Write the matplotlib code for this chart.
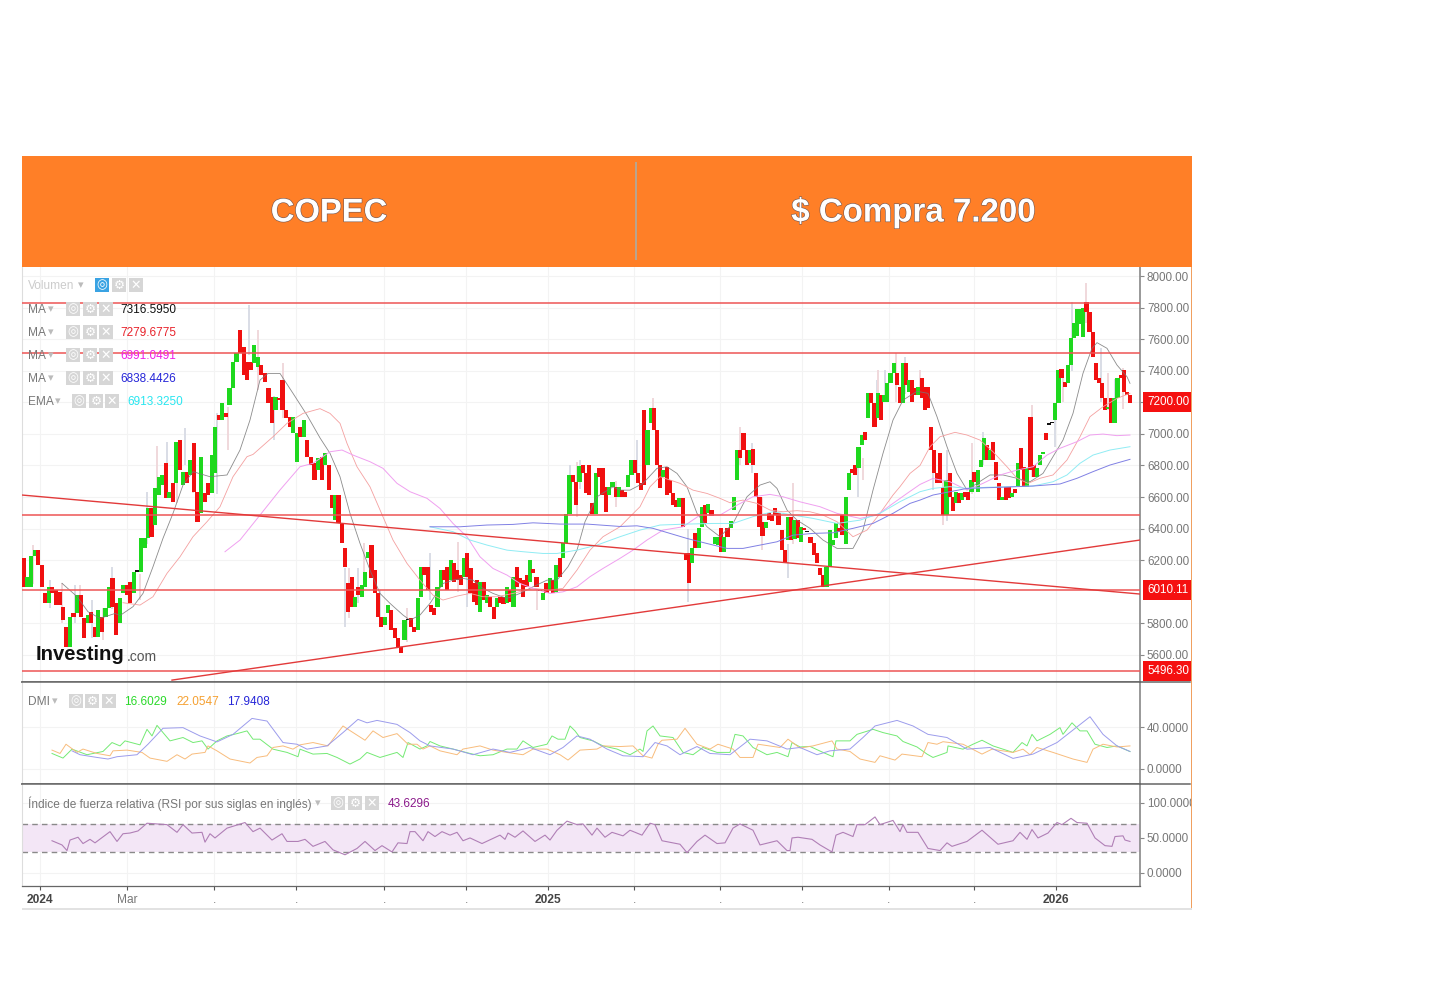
import numpy as np
import matplotlib
matplotlib.use("Agg")
import matplotlib.pyplot as plt
from matplotlib.patches import Rectangle
import matplotlib.patheffects as pe

W, H = 1438, 1008
plt.rcParams['font.family'] = ['Liberation Sans', 'DejaVu Sans']

# --- velas, por tramos (apertura / cierre) ---
opens_a = [6212,6032,6032,6227,6265,6170,5990,5927,6032,6012,6001,5906,5779,5652,5863,5863,5980,5832,5800,5874,
           5779,5716,5842,5842,5895,6085,5927,5800,5990,6043,6064,5990,6128,6128,6275,6339,6529,6423,6613,6676,
           6814,6592,6687,6687,6961,6676,6761,6740,6944,6634,6497,6624,6687,6624,6750,7119,7088,7130,7183,7288,
           7457,7658,7552,7457,7457,7447,7425,7436,7383,7288,7235,7151,7225,7341,7151,7109,7003,6824,7046,6982,
           6961,6856,6814,6771]
closes_a = [6032,6096,6227,6265,6170,6032,5927,6032,5990,5916,5916,5821,5652,5842,5842,5980,5842,5705,5853,5800,
            5716,5885,5747,5895,6032,5906,5726,5958,6043,5980,5927,6128,6132,6339,6339,6529,6349,6655,6729,6740,
            6592,6634,6571,6951,6771,6761,6687,6835,6634,6444,6856,6571,6613,6866,7046,7088,7193,7109,7288,7457,
            7510,7510,7373,7341,7404,7563,7489,7373,7330,7193,7067,7235,7214,7151,7098,7046,7109,7003,6982,7088,
            6856,6803,6708,6845]
opens_b = [6855,6803,6803,6613,6454,6613,6433,6275,6053,6095,5906,6032,5969,6032,6212,6296,6138,5990,5842,5789,
           5863,5885,5768,5705,5652,5694,5821,5832,5779,5758,5969,6159,6159,5916,5895,5906,6032,6138,6159,6074,
           6180,6138,6106,6096,6243,6148,6053,6074,5874,6064,5927,5969,5906,5906,5969,5968,5927,6011,5906,6159,
           6085,6074,6106,6064,6142,6096,6007,5948,6053,6011,6078,6000,6212,6212,6307,6492,6739,6697,6697,6803,
           6750,6803,6560,6490,6782,6782,6665,6613,6665,6665,6602]
closes_b = [6708,6881,6644,6528,6613,6433,6307,6159,5874,5906,5969,5979,6043,6127,6254,6085,5990,5842,5779,5842,
            5916,5758,5705,5652,5610,5821,5825,5779,5747,5958,6159,6106,6011,5874,5853,6032,6138,6074,6011,6201,
            6064,6074,6043,6212,6096,5990,5937,5916,6064,5948,5979,5906,5825,5958,5927,5925,6032,5937,6096,6032,
            6053,5969,6032,6201,6121,6028,6003,5990,5990,6085,5990,6169,6096,6307,6492,6739,6697,6549,6796,6750,
            6623,6613,6490,6750,6729,6613,6507,6665,6697,6598,6665]
opens_c = [6644,6634,6665,6739,6834,6750,6687,7151,6803,7067,7162,7024,6803,6729,6792,6708,6623,6581,6539,6592,
           6247,6243,6180,6370,6275,6412,6549,6497,6518,6306,6296,6402,6254,6402,6402,6518,6708,6898,7003,6898,
           6813,6902,6750,6602,6444,6402,6501,6486,6528,6497,6391,6264,6328,6476,6332,6454,6317,6406,6380,6349,
           6307,6247,6148,6106,6032,6159,6296,6338,6402,6486,6306,6644,6775,6803,6782,6929,7014,7098,7257,7193,
           7099,7247,7204,7204,7320,7384,7384,7299]
closes_c = [6602,6598,6739,6834,6750,6687,6644,6676,7024,7162,7024,6803,6655,6771,6613,6623,6549,6539,6592,6412,
            6201,6053,6275,6275,6402,6539,6433,6556,6480,6349,6349,6254,6349,6349,6450,6602,6898,6845,6898,6803,
            6898,6803,6602,6412,6353,6444,6454,6450,6486,6423,6264,6180,6476,6328,6454,6338,6412,6391,6376,6307,
            6233,6180,6106,6032,6159,6391,6328,6437,6380,6359,6602,6750,6750,6739,6919,6993,6961,7257,7193,7045,
            7257,7088,7247,7320,7384,7451,7310,7194]
opens_d = [7194,7447,7267,7341,7289,7246,7352,7299,7299,7046,6898,6750,6877,6666,6486,6750,6602,6560,6624,6581,
           6634,6634,6634,6761,6634,6792,6835,6930,6835,6951,6824,6687,6581,6662,6666,6602,6649,6666,6909,6792,
           6666,7109,6803,6729,6803,6870,7003,7063,7068,7088,7194,7409,7331,7320,7436,7605,7620,7694,7616,7837,
           7774,7647,7447,7352,7320,7225,7155,7225,7067,7225,7373,7405,7267,7246]
closes_d = [7447,7310,7341,7204,7246,7299,7225,7151,7162,6898,6750,6687,6687,6486,6708,6602,6514,6634,6560,6624,
            6602,6581,6708,6697,6771,6835,6972,6835,6898,6835,6708,6581,6602,6581,6592,6624,6628,6814,6771,6666,
            6782,6771,6729,6782,6866,6888,6961,7059,7072,7198,7405,7352,7299,7436,7605,7700,7791,7790,7800,7774,
            7647,7489,7341,7320,7225,7151,7172,7067,7225,7352,7352,7267,7246,7198]

# mechas sueltas: sesion, minimo, maximo
wick_sess = [33,50,62,75,80,92,103,112,140,147,157,167,177,185,193,217,228,249,258,274,283,
             345,349,358,364,380,407,430,458,467,537,570,577,580,616,
             637,653,688,740,752,762,788,793,858,863,877,878,885,896,905,920,
             933,943,947,972,983,1032,1055,1063,1072,1086,1101,1108,1115,1123]
wick_low = [6050,5900,5800,5800,5850,5705,5695,5890,5950,6300,6650,6600,6560,6800,6624,6620,6900,7500,7280,6960,7100,
            5779,5832,5927,6100,5800,5684,5950,6000,5905,5884,6600,6475,6650,6539,
            6700,7050,5937,6800,6750,6264,6085,6300,6600,6708,7100,7100,7200,7200,7250,7250,
            6645,6423,6450,6620,6800,6729,6919,7204,7400,7700,7200,7151,7172,7160]
wick_high = [6296,6075,6054,6043,6043,5950,5900,6159,6110,6634,6925,6950,6900,7035,6900,7130,7170,7815,7658,7240,7450,
             6150,6150,6150,6310,6010,5900,6243,6317,6100,6020,6803,6820,6834,6700,
             6961,7225,6400,7045,6940,6600,6300,6687,6855,6850,7341,7405,7405,7510,7490,7405,
             6900,6700,6898,6940,7014,7183,7130,7400,7838,7954,7542,7383,7350,7415]

# medias moviles
ma1_s = [62,77,88,100,115,120,133,143,153,163,173,183,193,210,227,240,250,260,268,280,293,307,320,330,340,350,360,370,380,390,403,410,420,430,443,453,463,473,483,493,507,520,533,547,557,568,577,585,597,613,620,630,643,657,667,677,687,697,707,720,733,747,760,770,777,787,797,810,823,837,853,863,873,883,893,903,917,928,937,947,957,967,977,990,1003,1017,1030,1043,1053,1063,1073,1083,1092,1097,1107,1117,1127,1130]
ma1_v = [6054,5970,5874,5832,5863,5850,5906,5990,6159,6339,6497,6676,6761,6729,6740,6898,7088,7341,7383,7383,7257,7119,6975,6877,6729,6497,6307,6138,5990,5927,5853,5821,5853,5927,6053,6074,6085,6074,6022,5990,5958,5990,6032,6074,6074,6159,6264,6444,6602,6665,6644,6644,6687,6782,6792,6750,6665,6497,6412,6349,6433,6602,6676,6697,6655,6518,6454,6402,6328,6275,6275,6391,6644,6877,7088,7214,7270,7257,7109,6919,6750,6645,6687,6740,6740,6719,6697,6750,6856,6961,7130,7384,7542,7578,7542,7436,7362,7320]
ma2_s = [123,140,153,167,180,193,207,220,233,247,253,273,287,303,320,330,340,347,357,370,383,393,407,420,433,443,457,470,483,497,513,533,550,563,577,590,603,620,630,640,650,660,670,680,693,707,720,730,743,757,770,783,797,810,823,837,853,867,880,893,900,910,920,930,940,955,967,980,993,1007,1017,1028,1040,1053,1067,1080,1090,1103,1117,1130]
ma2_v = [5931,5916,5969,6117,6222,6349,6444,6539,6729,6856,6870,6982,7067,7130,7160,7130,7067,6940,6792,6665,6475,6328,6180,6074,5979,5948,5973,5990,5969,5969,5990,6022,6011,6022,6138,6264,6349,6412,6476,6539,6665,6729,6708,6687,6644,6623,6592,6564,6581,6560,6518,6507,6514,6507,6486,6444,6349,6391,6497,6613,6666,6750,6800,6919,6982,7010,6993,6961,6887,6792,6719,6687,6719,6740,6835,6982,7109,7172,7225,7257]
ma3_s = [225,240,260,280,300,313,330,342,353,370,383,397,410,427,440,453,467,480,493,507,520,533,550,563,577,590,603,620,633,647,663,683,700,720,737,753,770,783,800,820,837,860,877,893,907,920,933,950,967,983,1000,1017,1033,1047,1060,1077,1090,1103,1117,1130]
ma3_v = [6254,6328,6486,6645,6792,6814,6887,6898,6866,6824,6782,6687,6634,6592,6528,6433,6349,6222,6148,6106,6053,6022,5990,6000,6032,6096,6148,6212,6264,6328,6391,6412,6486,6486,6549,6602,6617,6602,6570,6539,6497,6465,6486,6560,6623,6680,6718,6697,6645,6687,6740,6771,6792,6866,6909,6951,6993,6999,6989,6993]
ema_s = [430,453,470,487,507,523,543,557,577,597,620,640,660,687,713,733,753,773,793,813,837,860,880,900,910,920,933,950,967,987,1010,1033,1053,1067,1080,1093,1110,1130]
ema_v = [6412,6381,6328,6296,6264,6254,6243,6243,6264,6296,6349,6391,6423,6429,6433,6433,6476,6507,6486,6465,6433,6454,6497,6571,6602,6634,6655,6666,6655,6662,6666,6670,6697,6740,6814,6866,6898,6919]
ma4_s = [430,460,487,513,533,560,587,620,637,653,670,687,707,727,743,760,777,793,813,833,853,873,893,910,920,933,950,967,1000,1033,1060,1077,1093,1110,1130]
ma4_v = [6412,6412,6423,6427,6437,6429,6429,6414,6418,6402,6370,6338,6306,6275,6275,6296,6317,6359,6370,6374,6402,6433,6497,6560,6581,6613,6634,6655,6662,6670,6683,6719,6761,6803,6839]

# lineas de tendencia y niveles
level_prices = [7826, 7514, 6487, 6010.11, 5496.30]
trend_down_s = [22, 1140]
trend_down_v = [6613, 5986]
trend_up_s = [172, 1140]
trend_up_v = [5441, 6328]

# DMI
dmi_plus_s = [52,63,72,87,103,112,120,125,140,147,152,157,163,170,183,193,202,208,217,227,237,247,253,260,273,287,298,300,313,327,337,350,360,367,380,397,403,408,420,427,430,440,453,470,480,493,507,517,523,533,547,552,558,565,570,575,580,593,603,617,630,640,643,647,653,660,673,683,693,703,717,730,735,743,753,767,777,788,792,800,810,823,833,836,850,857,873,883,897,903,917,927,933,947,948,963,973,982,993,1013,1022,1027,1032,1037,1050,1060,1063,1072,1080,1087,1095,1107,1117,1130]
dmi_plus_v = [14.8,10.4,18.9,13.6,16.7,25.2,22,26.8,23,37.8,31.5,41.6,34.7,26.8,30,25.2,26.8,19,26.8,31.5,33.7,36.3,28.4,28.4,18.9,15.8,11.7,18.9,14.2,14.8,11,4.7,9.5,15.8,11,15.8,11,25.2,19,22,26.2,22,19,14.8,12.6,13.6,19,19,26.8,20.5,23.6,31.5,28.4,28.4,41,36.3,30,26.8,22,19,13.6,19,16.7,36.3,41,31.5,30,15.8,13.6,20.5,15.8,15.8,33,31.5,20.5,13.6,15.8,11.7,25.2,21,21.5,15.8,11.7,26.8,26.8,33,37.8,34.7,31.5,26.2,21,14.2,11,15.8,22,18.9,23.6,27.4,22,15.8,25.2,22,33,26.8,33,39.4,33,44,36.3,36.3,23.6,20.5,22,16.6]
dmi_minus_s = [52,60,66,77,83,97,110,113,127,142,150,167,177,185,192,205,208,217,230,250,257,267,273,283,293,300,313,328,333,343,348,365,373,383,397,408,417,423,430,440,457,463,480,493,507,523,533,547,560,568,580,597,603,620,633,643,652,658,662,677,685,697,710,718,733,740,753,758,780,788,800,813,832,837,850,860,875,880,895,902,922,928,937,943,963,982,992,1013,1023,1030,1037,1053,1073,1087,1093,1103,1117,1130]
dmi_minus_v = [18,14.8,23.6,15.8,19,14.8,12.6,17.3,18,15.8,10.4,7.3,13.6,9.5,14.2,15.8,22,17.3,9.5,5.7,11,12.6,20.5,22,18.9,23,25.2,22,28.4,41,37.8,27.4,36.3,30,33.7,23.6,23.6,19,22,17.3,13.6,19,22,18,15.8,13.6,19,19,13.6,8.5,18,19,22,21.4,22,12.6,10.4,23.6,27.4,28.4,38.8,23.6,19,23.6,19,11,11,23.6,20.5,28.4,20,22,26.8,19,16.7,9.5,6.3,12.6,8.5,14.2,11.7,25.2,23.6,26,23.6,14.2,18.9,15.8,18.9,13.6,20.5,15.8,9.5,6.3,18.9,23.6,21,22]
adx_s = [72,80,97,108,117,137,148,163,183,200,217,233,252,267,283,297,307,327,343,358,367,377,397,410,420,430,453,473,493,510,530,550,563,577,590,607,623,643,655,667,680,697,710,730,750,767,787,800,817,830,850,863,875,897,913,928,947,967,990,1013,1033,1057,1090,1103,1117,1130]
adx_v = [17.3,13.6,11,9.5,11.7,13.6,23.6,38.8,39.4,31.5,25.8,33,48.2,45.7,25.2,23.6,18.9,22,34.7,47.3,44,46.3,42.5,34.7,26.8,22,19,13.6,19,15.8,20.5,13.6,20.5,31.5,28.4,19,12.6,11.7,25.2,22,13.6,21.4,14.8,13.6,28.4,26.8,19,20.5,13.6,17.3,19,30,41,46.3,41,33,30,18.9,20.5,10.1,14.2,25.2,49.8,33,22,16.7]

# RSI
rsi_s = [52,62,67,70,78,83,90,95,110,117,123,130,138,147,157,167,177,183,192,202,205,210,215,227,245,253,260,272,282,287,298,305,313,325,333,345,357,365,375,382,392,398,407,410,415,423,428,435,442,450,457,463,470,482,500,505,508,515,523,535,545,550,557,567,577,583,592,597,605,612,623,630,642,650,655,662,673,680,687,697,705,717,725,733,740,753,760,777,787,790,792,798,812,820,832,836,843,853,857,865,875,880,893,900,903,907,918,928,940,947,952,967,982,998,1013,1020,1027,1032,1038,1048,1057,1062,1071,1077,1087,1095,1105,1112,1115,1123,1125,1130]
rsi_v = [46,40,32,47,51,42,48,43,59,45,56,57,60,71,70,69,58,69,57,58,44,56,50,64,72,59,64,47,56,45,45,48,38,45,33,26,35,45,32,39,30,43,42,59,59,46,59,52,59,54,58,46,50,42,54,48,57,51,60,45,54,47,61,74,69,70,54,64,51,58,53,61,54,71,69,46,43,41,29,45,54,42,43,64,70,61,40,46,32,32,50,51,48,40,30,54,58,52,69,69,80,69,75,59,69,58,58,35,32,43,38,45,61,41,46,58,48,62,50,57,72,69,78,72,71,50,39,38,52,53,47,45]

# ejes
price_ticks = [8000,7800,7600,7400,7200,7000,6800,6600,6400,6200,5800,5600]
dmi_ticks = [40, 0]
rsi_ticks = [100, 50, 0]
time_ticks = [40,127,214,296,384,466,548,634,720,802,889,974,1056]
time_labels = ['2024','Mar','.','.','.','.','2025','.','.','.','.','.','2026']

# sesiones de cada vela: cada tramo reparte sus velas de forma uniforme
bar_sess = np.concatenate([np.linspace(24, 318, len(opens_a)), np.linspace(322, 619, len(opens_b)),
                           np.linspace(622, 900, len(opens_c)), np.linspace(903, 1130, len(opens_d))])
opens = np.array(opens_a + opens_b + opens_c + opens_d, dtype=float)
closes = np.array(closes_a + closes_b + closes_c + closes_d, dtype=float)

fig = plt.figure(figsize=(W / 100, H / 100), dpi=100, facecolor='white')


def panel(y0, y1):
    return fig.add_axes([22 / W, 1 - y1 / H, (1140 - 22) / W, (y1 - y0) / H], zorder=1)


def label(x, y, s, **kw):
    kw.setdefault('va', 'center')
    kw.setdefault('zorder', 10)
    return fig.text(x / W, 1 - y / H, s, **kw)


def box(x, y, w, h, color, zorder=10):
    fig.add_artist(Rectangle((x / W, 1 - (y + h) / H), w / W, h / H, transform=fig.transFigure,
                             facecolor=color, edgecolor='none', zorder=zorder))


def icons(xs, y, first='#d6d6d6'):
    # tres botones grises de la leyenda
    for i, (xb, g) in enumerate(zip(xs, ['◎', '⚙', '✕'])):
        box(xb, y - 7, 14, 14, first if i == 0 else '#d6d6d6', zorder=9)
        label(xb + 7, y, g, color='white', fontsize=9, ha='center', family='DejaVu Sans')


ax = panel(267, 682)
ax_dmi = panel(682, 784)
ax_rsi = panel(784, 886)
for a in (ax, ax_dmi, ax_rsi):
    a.set_xlim(22, 1140)
    a.set_xticks(time_ticks)
    a.grid(True, color='#f3f3f3', lw=0.8)
    a.set_axisbelow(True)
    a.yaxis.tick_right()
    a.tick_params(axis='y', length=3, color='#888888', labelcolor='#777777', labelsize=8.4, pad=2)
    a.tick_params(axis='x', length=0, labelbottom=False)
    for s in ('top', 'bottom'):
        a.spines[s].set_color('#666666')
        a.spines[s].set_linewidth(1.1)
    a.spines['left'].set_color('#dddddd')
    a.spines['right'].set_color('#888888')
    a.spines['right'].set_linewidth(1.2)
ax.spines['top'].set_visible(False)
ax_rsi.spines['bottom'].set_linewidth(0.9)

# panel de precios
ax.set_ylim(5429, 8057)
ax.set_yticks(price_ticks)
ax.set_yticklabels([f'{v:.2f}' for v in price_ticks])
wick_col = ['#d9dde6' if i % 2 else '#f0d8dc' for i in range(len(wick_sess))]
ax.vlines(wick_sess, wick_low, wick_high, colors=wick_col, lw=1.4, zorder=2)
bar_col = ['#111111' if abs(c - o) <= 5 else ('#1ed81e' if c > o else '#f01010') for o, c in zip(opens, closes)]
body = np.maximum(np.abs(closes - opens), 8)
ax.bar(bar_sess, body, bottom=np.minimum(opens, closes), width=4.2, color=bar_col, linewidth=0, zorder=3)
ax.plot(ma1_s, ma1_v, color='#777777', lw=0.6, alpha=0.85, zorder=4)
ax.plot(ma2_s, ma2_v, color='#f4a0a0', lw=0.6, zorder=4)
ax.plot(ma3_s, ma3_v, color='#f0a0f0', lw=0.7, zorder=4)
ax.plot(ema_s, ema_v, color='#90ecf4', lw=0.7, zorder=4)
ax.plot(ma4_s, ma4_v, color='#8080e4', lw=0.7, zorder=4)
for p in level_prices:
    ax.axhline(p, color='#ee5555', lw=1.1, zorder=5)
ax.plot(trend_down_s, trend_down_v, color='#e23a3a', lw=1.0, zorder=5)
ax.plot(trend_up_s, trend_up_v, color='#e23a3a', lw=1.0, zorder=5)
for v, t in [(7200, '7200.00'), (6010.11, '6010.11'), (5496.30, '5496.30')]:
    ax.text(1147, v, t, color='white', fontsize=8.4, va='center', ha='left', clip_on=False, zorder=8,
            bbox=dict(boxstyle='square,pad=0.35', fc='#f51010', ec='none'))

# DMI
ax_dmi.set_ylim(-14.3, 82.9)
ax_dmi.set_yticks(dmi_ticks)
ax_dmi.set_yticklabels([f'{v:.4f}' for v in dmi_ticks])
ax_dmi.plot(dmi_plus_s, dmi_plus_v, color='#74ea74', lw=0.7)
ax_dmi.plot(dmi_minus_s, dmi_minus_v, color='#f8bc7c', lw=0.7)
ax_dmi.plot(adx_s, adx_v, color='#9c9cec', lw=0.7)

# RSI
ax_rsi.set_ylim(-18.6, 127)
ax_rsi.set_yticks(rsi_ticks)
ax_rsi.set_yticklabels([f'{v:.4f}' for v in rsi_ticks])
ax_rsi.axhspan(30, 70, color='#f3e6f6', lw=0, zorder=1)
ax_rsi.axhline(70, color='#8a8a8a', lw=1, ls=(0, (4, 3)), zorder=2)
ax_rsi.axhline(30, color='#8a8a8a', lw=1, ls=(0, (4, 3)), zorder=2)
ax_rsi.plot(rsi_s, rsi_v, color='#b07fb6', lw=0.8, zorder=3)
ax_rsi.tick_params(axis='x', length=3, color='#555555', labelbottom=True, labelsize=8.6, pad=2.5)
ax_rsi.set_xticklabels(time_labels)
for t, s in zip(ax_rsi.get_xticklabels(), time_labels):
    if s[0] == '2':
        t.set_fontweight('bold')
        t.set_color('#444444')
    else:
        t.set_color('#777777')

# textos cortados bajo la cabecera
label(48, 262, '6720.00  7120.00  6720.00  6720.00', color='#222222', fontsize=9.5, zorder=5)

# cabecera naranja
box(22, 156, 1170, 111, '#ff7f27', zorder=6)
box(635, 162, 1.5, 98, '#b9a48e', zorder=7)
stroke = [pe.withStroke(linewidth=0.9, foreground='#7a5a52')]
label(329, 213, 'COPEC', color='white', fontsize=23.6, fontweight='bold', ha='center', path_effects=stroke)
label(913, 213, '$ Compra 7.200', color='white', fontsize=23.8, fontweight='bold', ha='center', path_effects=stroke)

# bordes derecho e inferior
box(1192, 267, 30, 650, 'white', zorder=8)
box(1190.5, 267, 1.2, 642, '#f0a060', zorder=9)
box(22, 907.5, 1170, 2, '#e2e2e2', zorder=9)
fig.add_artist(plt.Line2D([1140 / W, 1190 / W], [1 - 682 / H] * 2, color='#666666', lw=1.1, zorder=9))
fig.add_artist(plt.Line2D([1140 / W, 1190 / W], [1 - 784 / H] * 2, color='#666666', lw=1.1, zorder=9))

# leyendas
grey = '#777777'
arrow = dict(color='#bbbbbb', fontsize=8, ha='center', family='DejaVu Sans')
label(28, 286, 'Volumen', color='#cccccc', fontsize=8.6)
label(81, 285, '▾', **arrow)
icons([95, 112, 129], 285, first='#3aa3e3')
for y, name, value, col in [(309, 'MA', '7316.5950', '#111111'), (332, 'MA', '7279.6775', '#e8222a'),
                            (355, 'MA', '6991.0491', '#f020e8'), (378, 'MA', '6838.4426', '#2525d8')]:
    label(28, y + 1, name, color=grey, fontsize=8.6)
    label(51, y, '▾', **arrow)
    icons([66, 83, 99], y)
    label(120, y + 1, value, color=col, fontsize=8.5)
label(28, 402, 'EMA', color=grey, fontsize=8.6)
label(58, 401, '▾', **arrow)
icons([72, 89, 105], 401)
label(127, 402, '6913.3250', color='#28e6f0', fontsize=8.5)

label(28, 702, 'DMI', color=grey, fontsize=8.6)
label(55, 701, '▾', **arrow)
icons([69, 85, 102], 701)
label(124, 702, '16.6029', color='#2ad92a', fontsize=8.5)
label(176, 702, '22.0547', color='#f5a030', fontsize=8.5)
label(227, 702, '17.9408', color='#2525d8', fontsize=8.5)

label(28, 804, 'Índice de fuerza relativa (RSI por sus siglas en inglés)', color=grey, fontsize=8.6)
label(318, 803, '▾', **arrow)
icons([331, 348, 365], 803)
label(388, 804, '43.6296', color='#8b1a8b', fontsize=8.5)

# logo
label(36, 654, 'Investing', color='#111111', fontsize=14.6, fontweight='bold')
label(127, 657, '.com', color='#555555', fontsize=10)

fig.savefig('out.png', dpi=100, facecolor='white')
